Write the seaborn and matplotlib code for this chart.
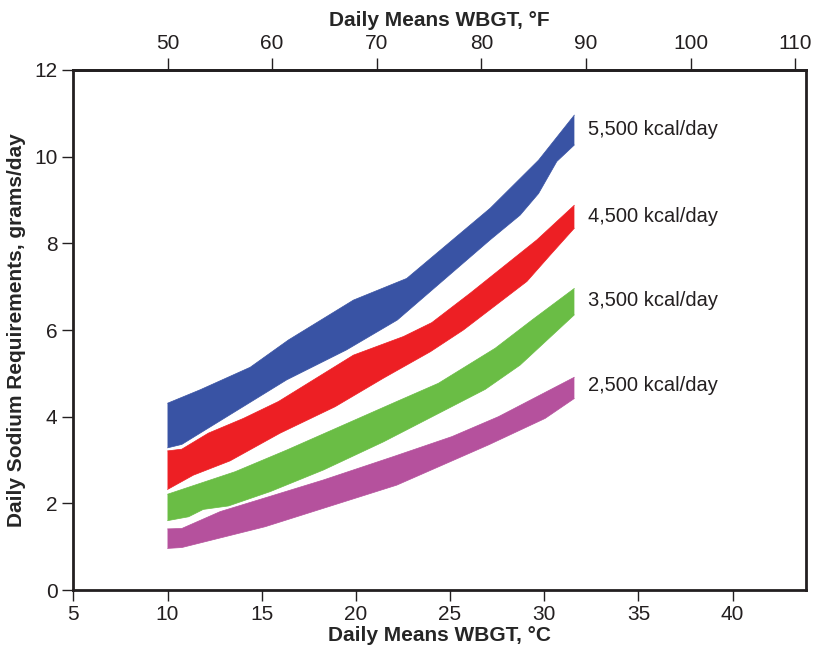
import numpy as np
import matplotlib
matplotlib.use("Agg")
import matplotlib.pyplot as plt
import seaborn as sns

# ---- data (°C, grams/day) ----
labels = ["5,500 kcal/day", "4,500 kcal/day", "3,500 kcal/day", "2,500 kcal/day"]
colors = ["#3953A4", "#ED1F24", "#6ABD45", "#B5519D"]

blue_up_x = [10.0, 11.73, 14.39, 16.42, 19.87, 22.7, 27.13, 29.7, 31.6]
blue_up_y = [4.31, 4.62, 5.14, 5.77, 6.69, 7.19, 8.81, 9.92, 10.96]
blue_lo_x = [10.0, 10.76, 16.33, 19.5, 22.2, 27.13, 28.72, 29.7, 30.67, 31.6]
blue_lo_y = [3.28, 3.36, 4.85, 5.54, 6.23, 8.08, 8.65, 9.15, 9.89, 10.27]

red_up_x = [10.0, 10.76, 12.17, 14.03, 15.89, 19.87, 22.53, 24.03, 26.07, 29.61, 31.6]
red_up_y = [3.21, 3.25, 3.62, 3.96, 4.35, 5.42, 5.85, 6.17, 6.85, 8.08, 8.88]
red_lo_x = [10.0, 11.37, 13.32, 15.98, 18.9, 21.47, 23.96, 25.71, 29.08, 30.32, 31.6]
red_lo_y = [2.32, 2.65, 2.98, 3.62, 4.23, 4.89, 5.50, 6.00, 7.12, 7.73, 8.35]

green_up_x = [10.0, 13.59, 16.33, 22.17, 24.38, 27.4, 29.35, 31.6]
green_up_y = [2.21, 2.73, 3.23, 4.35, 4.77, 5.58, 6.23, 6.96]
green_lo_x = [10.0, 11.12, 11.9, 13.24, 15.45, 18.28, 21.47, 26.87, 28.72, 31.6]
green_lo_y = [1.60, 1.69, 1.86, 1.94, 2.27, 2.77, 3.42, 4.63, 5.19, 6.35]

purple_up_x = [10.0, 10.76, 12.8, 15.36, 18.28, 22.0, 25.1, 27.57, 31.6]
purple_up_y = [1.41, 1.42, 1.81, 2.15, 2.54, 3.08, 3.54, 4.00, 4.91]
purple_lo_x = [10.0, 10.76, 15.18, 22.17, 27.05, 30.05, 31.6]
purple_lo_y = [0.96, 0.98, 1.46, 2.42, 3.35, 3.96, 4.42]

label_y = [10.62, 8.61, 6.69, 4.73]

bands = [
    (blue_up_x, blue_up_y, blue_lo_x, blue_lo_y),
    (red_up_x, red_up_y, red_lo_x, red_lo_y),
    (green_up_x, green_up_y, green_lo_x, green_lo_y),
    (purple_up_x, purple_up_y, purple_lo_x, purple_lo_y),
]

x_ticks_c = [5, 10, 15, 20, 25, 30, 35, 40]
x_ticks_f = [50, 60, 70, 80, 90, 100, 110]
y_ticks = [0, 2, 4, 6, 8, 10, 12]

# ---- style ----
sns.set_theme(style="ticks")
plt.rcParams["font.family"] = ["Liberation Sans Narrow", "Liberation Sans", "DejaVu Sans"]
plt.rcParams["text.color"] = "#231F20"

fig = plt.figure(figsize=(8.15, 6.56), dpi=100)
ax = fig.add_axes([0.090, 0.1006, 0.899, 0.7927])

for (ux, uy, lx, ly), col, lab, ly_txt in zip(bands, colors, labels, label_y):
    px = np.concatenate([ux, lx[::-1]])
    py = np.concatenate([uy, ly[::-1]])
    ax.fill(px, py, color=col, lw=0)
    sns.lineplot(x=ux, y=uy, ax=ax, color=col, lw=0.5)
    sns.lineplot(x=lx, y=ly, ax=ax, color=col, lw=0.5)
    ax.text(32.3, ly_txt, lab, fontsize=14.5, va="center", ha="left",
            family=["Liberation Sans", "DejaVu Sans"], color="#231F20")

ax.set_xlim(5, 43.9)
ax.set_ylim(0, 12)
ax.set_xticks(x_ticks_c)
ax.set_yticks(y_ticks)
ax.tick_params(axis="both", direction="out", length=8, width=1, labelsize=15, colors="#231F20")
ax.tick_params(axis="x", pad=3)
for s in ax.spines.values():
    s.set_linewidth(2)
    s.set_color("#231F20")
    s.set_visible(True)

ax.set_xlabel("Daily Means WBGT, °C", fontsize=15, fontweight="bold", labelpad=1)
ax.set_ylabel("Daily Sodium Requirements, grams/day", fontsize=15, fontweight="bold", labelpad=6)

sec = ax.secondary_xaxis("top", functions=(lambda c: c * 9 / 5 + 32, lambda f: (f - 32) * 5 / 9))
sec.set_xticks(x_ticks_f)
sec.tick_params(direction="out", length=9, width=1, labelsize=15, colors="#231F20", pad=3)
sec.spines["top"].set_linewidth(2)
sec.set_xlabel("Daily Means WBGT, °F", fontsize=15, fontweight="bold", labelpad=6)

fig.savefig("out.png", dpi=100)
